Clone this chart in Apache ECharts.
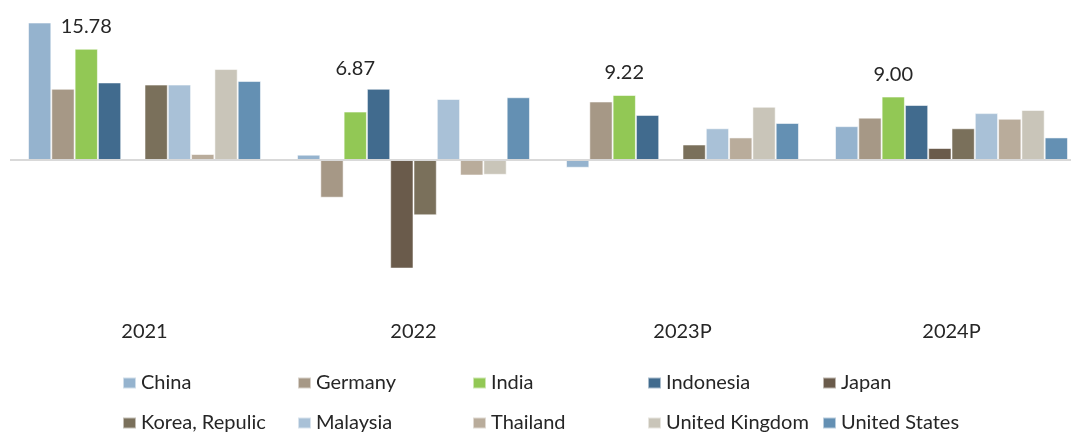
<!DOCTYPE html>
<html>
<head>
<meta charset="utf-8">
<script src="https://cdn.jsdelivr.net/npm/echarts@6/dist/echarts.min.js"></script>
<style>
  html, body { margin: 0; padding: 0; background: #fff; overflow: hidden; }
  /* the original plot runs past the right edge, so the canvas is a bit wider than the window */
  #main { width: 1090px; height: 433px; }
</style>
</head>
<body>
<div id="main"></div>
<script>
var years = ['2021', '2022', '2023P', '2024P'];
var countries = ['China', 'Germany', 'India', 'Indonesia', 'Japan',
  'Korea, Repulic', 'Malaysia', 'Thailand', 'United Kingdom', 'United States'];

// values per country, one per year
var china = [19.5, 0.75, -1.1, 4.8];
var germany = [10.1, -5.35, 8.3, 6.0];
var india = [15.78, 6.87, 9.22, 9.00];
var indonesia = [11.0, 10.1, 6.4, 7.8];
var japan = [null, -15.4, 0.2, 1.7];
var korea = [10.7, -7.85, 2.2, 4.5];
var malaysia = [10.7, 8.65, 4.5, 6.65];
var thailand = [0.85, -2.2, 3.2, 5.85];
var uk = [12.9, -2.1, 7.55, 7.1];
var us = [11.2, 8.9, 5.25, 3.2];

var colors = ['#95B3CE', '#A69886', '#92C855', '#416B8E', '#6A5B4B',
  '#7A705B', '#A9C1D7', '#B9AC9B', '#C9C5B9', '#6490B3'];

var allValues = [china, germany, india, indonesia, japan, korea, malaysia, thailand, uk, us];

var font = 'Lato, "Liberation Sans", sans-serif';

var series = countries.map(function (name, i) {
  var s = {
    name: name,
    type: 'bar',
    barGap: '0%',
    barCategoryGap: '13.4%',
    data: allValues[i].slice(),
    itemStyle: {
      color: colors[i],
      borderColor: 'rgba(255,255,255,0.55)',
      borderWidth: 1
    }
  };
  if (name === 'India') {
    s.label = {
      show: true,
      position: 'top',
      distance: 12,
      color: '#262626',
      fontSize: 20,
      fontFamily: font,
      formatter: function (p) { return p.value.toFixed(2); }
    };
    // the 2022 label sits higher in the original
    s.data[1] = { value: india[1], label: { offset: [0, -21] } };
  }
  if (i === 0) {
    s.markLine = {
      silent: true,
      symbol: 'none',
      label: { show: false },
      lineStyle: { color: '#d9d9d9', width: 2, type: 'solid' },
      data: [{ yAxis: 0 }]
    };
  }
  return s;
});

var chart = echarts.init(document.getElementById('main'));
chart.setOption({
  animation: false,
  color: colors,
  grid: { left: 10, width: 1076, top: 19, height: 282 },
  legend: {
    data: countries,
    left: 117,
    top: 362,
    width: 890,
    itemWidth: 13,
    itemHeight: 11,
    itemGap: 8,
    icon: 'rect',
    textStyle: {
      fontFamily: font,
      fontSize: 20,
      color: '#262626',
      width: 148,
      height: 32,
      lineHeight: 32
    }
  },
  xAxis: {
    type: 'category',
    data: years,
    axisLine: { show: false, onZero: false },
    axisTick: { show: false },
    axisLabel: {
      margin: 21,
      fontFamily: font,
      fontSize: 20,
      color: '#262626'
    }
  },
  yAxis: {
    type: 'value',
    min: -20,
    max: 20,
    show: false,
    splitLine: { show: false }
  },
  series: series
});
</script>
</body>
</html>
